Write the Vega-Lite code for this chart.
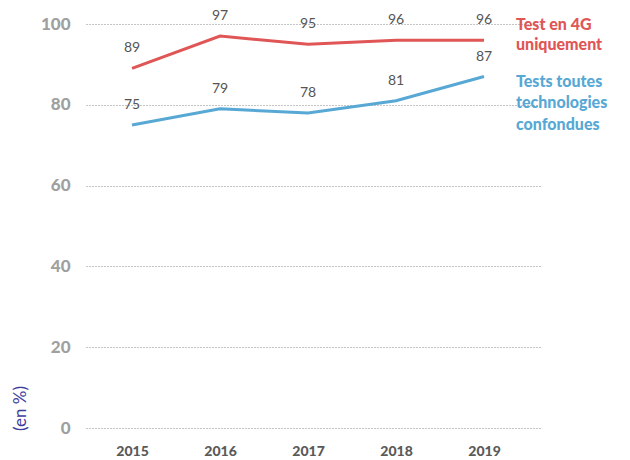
{
  "$schema": "https://vega.github.io/schema/vega-lite/v6.json",
  "width": 456,
  "height": 404,
  "autosize": {"type": "none"},
  "padding": {"left": 86, "top": 24, "right": 88, "bottom": 32},
  "background": "white",
  "config": {
    "view": {"stroke": null},
    "font": "Lato"
  },
  "datasets": {
    "series": [
      {"annee": 2015, "valeur": 89, "serie": "Test en 4G uniquement"},
      {"annee": 2016, "valeur": 97, "serie": "Test en 4G uniquement"},
      {"annee": 2017, "valeur": 95, "serie": "Test en 4G uniquement"},
      {"annee": 2018, "valeur": 96, "serie": "Test en 4G uniquement"},
      {"annee": 2019, "valeur": 96, "serie": "Test en 4G uniquement"},
      {"annee": 2015, "valeur": 75, "serie": "Tests toutes technologies confondues"},
      {"annee": 2016, "valeur": 79, "serie": "Tests toutes technologies confondues"},
      {"annee": 2017, "valeur": 78, "serie": "Tests toutes technologies confondues"},
      {"annee": 2018, "valeur": 81, "serie": "Tests toutes technologies confondues"},
      {"annee": 2019, "valeur": 87, "serie": "Tests toutes technologies confondues"}
    ],
    "legende": [
      {"annee": 2019, "valeur": 96, "serie": "Test en 4G uniquement", "texte": "Test en 4G\nuniquement", "decalage": "haut"},
      {"annee": 2019, "valeur": 87, "serie": "Tests toutes technologies confondues", "texte": "Tests toutes\ntechnologies\nconfondues", "decalage": "bas"}
    ]
  },
  "layer": [
    {
      "data": {"name": "series"},
      "mark": {"type": "line", "strokeWidth": 3},
      "encoding": {
        "x": {
          "field": "annee", "type": "quantitative",
          "scale": {"domain": [2014.477, 2019.659], "nice": false, "zero": false},
          "axis": {
            "values": [2015, 2016, 2017, 2018, 2019], "format": "d", "title": null,
            "grid": false, "domain": false, "ticks": false,
            "labelPadding": 16, "labelFontSize": 14, "labelFontWeight": 900,
            "labelColor": "#5a5a5a", "labelFont": "Lato"
          }
        },
        "y": {
          "field": "valeur", "type": "quantitative",
          "scale": {"domain": [0, 100], "nice": false},
          "axis": {
            "values": [0, 20, 40, 60, 80, 100], "title": "(en %)",
            "titleAngle": -90, "titleX": -66, "titleY": 384, "titleAlign": "center",
            "titleBaseline": "middle", "titleColor": "#3d3d9e", "titleFontSize": 17,
            "titleFontWeight": "normal", "titleFont": "Lato",
            "grid": true, "gridColor": "#8a8a8a", "gridDash": [1, 2], "gridWidth": 1,
            "domain": false, "ticks": false, "labelPadding": 16,
            "labelFontSize": 17, "labelFontWeight": 900, "labelColor": "#a0a0a0",
            "labelFont": "Lato"
          }
        },
        "color": {
          "field": "serie", "type": "nominal",
          "scale": {"domain": ["Test en 4G uniquement", "Tests toutes technologies confondues"], "range": ["#e05656", "#57a8d4"]},
          "legend": null
        }
      }
    },
    {
      "data": {"name": "series"},
      "mark": {"type": "text", "baseline": "middle", "dy": -20, "fontSize": 14, "color": "#555555", "font": "Lato"},
      "encoding": {
        "x": {"field": "annee", "type": "quantitative"},
        "y": {"field": "valeur", "type": "quantitative"},
        "text": {"field": "valeur", "type": "quantitative"}
      }
    },
    {
      "data": {"name": "legende"},
      "transform": [{"filter": "datum.decalage === 'haut'"}],
      "mark": {"type": "text", "align": "left", "baseline": "middle", "dx": 32, "dy": -15, "fontSize": 16, "fontWeight": 900, "lineBreak": "\n", "lineHeight": 20, "font": "Lato"},
      "encoding": {
        "x": {"field": "annee", "type": "quantitative"},
        "y": {"field": "valeur", "type": "quantitative"},
        "text": {"field": "texte"},
        "color": {"field": "serie", "type": "nominal", "legend": null}
      }
    },
    {
      "data": {"name": "legende"},
      "transform": [{"filter": "datum.decalage === 'bas'"}],
      "mark": {"type": "text", "align": "left", "baseline": "middle", "dx": 32, "dy": 5, "fontSize": 16, "fontWeight": 900, "lineBreak": "\n", "lineHeight": 21.5, "font": "Lato"},
      "encoding": {
        "x": {"field": "annee", "type": "quantitative"},
        "y": {"field": "valeur", "type": "quantitative"},
        "text": {"field": "texte"},
        "color": {"field": "serie", "type": "nominal", "legend": null}
      }
    }
  ]
}
